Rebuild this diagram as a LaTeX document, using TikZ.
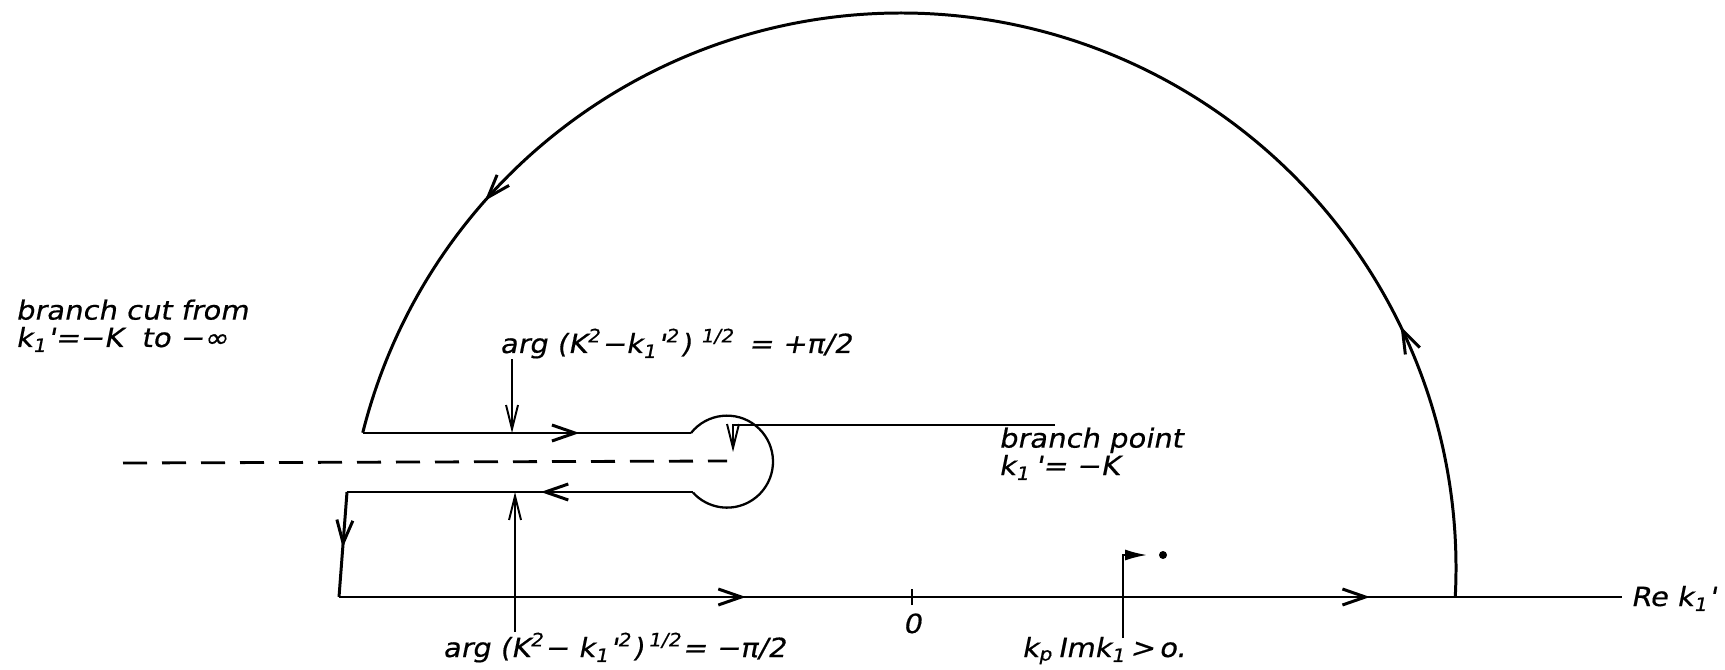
\documentclass[tikz,border=0pt]{standalone}
\usepackage{fontspec}
\newfontfamily\lblfont[FakeStretch=1.1, FakeSlant=0.2, FakeBold=0.5]{DejaVu Sans}
\usetikzlibrary{arrows.meta,decorations.markings}

\begin{document}
\begin{tikzpicture}[
  x=0.1mm, y=0.1mm,
  contour/.style={line width=0.85pt, line join=round},
  flow/.style={postaction={decorate}, decoration={markings,
      mark=at position #1 with {\arrow{Straight Barb[length=2.3mm,width=1.6mm]}}}},
  cutline/.style={line width=0.8pt, dash pattern=on 2.4mm off 1.5mm},
  pointer/.style={line width=0.55pt, -{Straight Barb[length=2.4mm,width=1.2mm]}},
  lbl/.style={font=\lblfont\fontsize{7.5}{7.8}\selectfont, inner sep=0pt,
              anchor=base west, align=left},
]
\useasboundingbox (0,0) rectangle (1725,669);

% centres and fixed points
\coordinate (O)    at (901,101);   % centre of the large arc
\coordinate (P)    at (727,208);   % branch point
\coordinate (zero) at (912,72);
\coordinate (uA)   at (512,236);
\coordinate (lA)   at (515,177);
\coordinate (lB)   at (515,37);
\coordinate (bpA)  at (1055,244);
\coordinate (bpB)  at (733,217);
\coordinate (kp0)  at (1123,31);
\coordinate (kp1)  at (1147,114);

% keyhole round the cut
\draw[contour, flow=0.66] (363,236) -- (691,236);
\draw[line width=0.65pt] (691,236) arc[start angle=141.5, end angle=-137.6, radius=46];
\draw[contour, flow=0.44] (693,177) -- (347,177);
\draw[contour, flow=0.53] (347,177) -- (339,72);

% real axis
\draw[contour, flow=0.71] (339,72) -- (zero);
\draw[contour, flow=0.645] (zero) -- (1622,72);
\draw[line width=0.6pt] (zero) ++(0,-8) -- ++(0,16);

% large arc
\draw[contour, flow=0.31] (O) ++(-3:555) arc[start angle=-3, end angle=90, radius=555];
\draw[contour, flow=0.64] (O) ++(90:555) arc[start angle=90, end angle=165.9, radius=555];

% branch cut
\draw[cutline] (123,206) -- (P);

% labels
\node[lbl] (cut) at (15,322) {branch cut from\\k\textsubscript{1}'=−K\ \ to −∞};
\node[lbl] (argplus) at (499,316)
  {arg (K\textsuperscript{2}−k\textsubscript{1}'\textsuperscript{2})\ \textsuperscript{1/2}\ \,= +π/2};
\node[lbl] (argminus) at (442,12)
  {arg (K\textsuperscript{2}− k\textsubscript{1}'\textsuperscript{2})\,\textsuperscript{1/2}= −π/2};
\node[lbl] (bp) at (998,194) {branch point\\k\textsubscript{1}\,'= −K};
\node[lbl, anchor=base] (zerolbl) at (912,36) {0};
\node[lbl] (kplbl) at (1021,12) {k\textsubscript{p}\,Imk\textsubscript{1}\,>\,o.};
\node[lbl] (relbl) at (1630,63) {Re k\textsubscript{1}'};
\node[circle, fill, inner sep=0pt, minimum size=0.8mm] (pole) at (1163,114) {};

% pointers
\draw[pointer] (argplus.south -| uA) -- (uA);
\draw[pointer] (lB) -- (lA);
\draw[pointer] (bpA) -| (bpB);
\draw[line width=0.55pt, -{Latex[length=2.2mm,width=1.1mm]}] (kp0) |- (kp1);

\end{tikzpicture}
\end{document}
